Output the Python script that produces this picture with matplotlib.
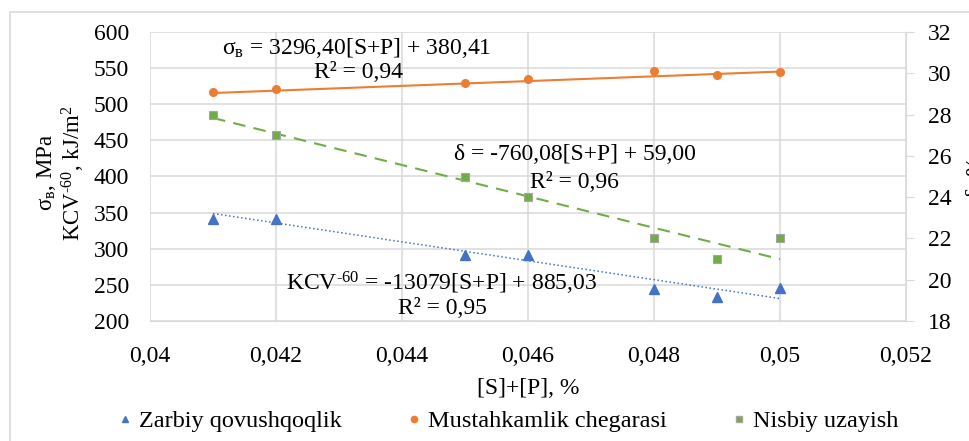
import numpy as np
import matplotlib.pyplot as plt
from matplotlib.patches import Rectangle
from matplotlib.lines import Line2D

plt.rcParams['font.family'] = ['Liberation Serif', 'DejaVu Serif']
plt.rcParams['mathtext.fontset'] = 'custom'
plt.rcParams['mathtext.rm'] = 'Liberation Serif'
plt.rcParams['mathtext.it'] = 'Liberation Serif:italic'

# [S]+[P] content, %
sp = [0.041, 0.042, 0.045, 0.046, 0.048, 0.049, 0.050]
# KCV-60, kJ/m2
kcv = [341, 341, 291, 291, 244, 233, 246]
# sigma_B, MPa
sigma = [517, 521, 529, 535, 546, 541, 544]
# delta, %
delta = [28, 27, 25, 24, 22, 21, 22]

# trendline coefficients (slope, intercept)
kcv_fit = (-13079, 885.03)
sigma_fit = (3296.40, 380.41)
delta_fit = (-760.08, 59.00)

c_blue = '#4472C4'
c_orange = '#ED7D31'
c_green = '#70AD47'
grid_c = '#D9D9D9'

fig = plt.figure(figsize=(9.7, 4.41), dpi=100)
fig.patches.append(Rectangle((10 / 970, -0.1), 1.2, (441 - 12) / 441 + 0.1,
                             transform=fig.transFigure, fill=False,
                             edgecolor=grid_c, lw=1.2))

ax = fig.add_axes([150 / 970, 120 / 441, 756 / 970, 289 / 441])
ax2 = ax.twinx()

xs = np.array([sp[0], sp[-1]])

# left axis: impact strength and tensile strength
ax.plot(xs, kcv_fit[0] * xs + kcv_fit[1], color=c_blue, ls=':', lw=1.1)
ax.plot(sp, kcv, ls='none', marker='^', ms=6.5, color=c_blue)
ax.plot(xs, sigma_fit[0] * xs + sigma_fit[1], color=c_orange, lw=1.5)
ax.plot(sp, sigma, ls='none', marker='o', ms=5.5, color=c_orange)

# right axis: elongation
ax2.plot(xs, delta_fit[0] * xs + delta_fit[1], color=c_green, ls=(0, (6, 4)), lw=1.5)
ax2.plot(sp, delta, ls='none', marker='s', ms=5.5, color=c_green,
         mec='#A5A5A5', mew=0.8)

ax.set_xlim(0.04, 0.052)
ax.set_ylim(200, 600)
ax2.set_ylim(18, 32)
xt = np.arange(0.040, 0.0521, 0.002)
ax.set_xticks(xt)
ax.set_xticklabels(['0,04', '0,042', '0,044', '0,046', '0,048', '0,05', '0,052'])
ax.set_yticks(np.arange(200, 601, 50))
ax2.set_yticks(np.arange(18, 33, 2))

ax.grid(True, color=grid_c, lw=1.1)
ax.set_axisbelow(True)
for a in (ax, ax2):
    for s in a.spines.values():
        s.set_visible(False)
ax2.spines['right'].set_visible(True)
ax2.spines['right'].set_color(grid_c)
ax.spines['bottom'].set_visible(True)
ax.spines['bottom'].set_color(grid_c)
ax.tick_params(axis='y', length=0, labelsize=17, pad=15)
ax.tick_params(axis='x', length=0, labelsize=17, pad=18)
ax2.tick_params(axis='y', length=6, color=grid_c, labelsize=17, pad=10)

ax.set_xlabel('[S]+[P], %', fontsize=17, labelpad=8)
fig.text(47 / 970, 1 - 173 / 441, 'σ$_{\\mathrm{в}}$, MPa', rotation=90,
         ha='center', va='center', fontsize=16.5)
fig.text(73 / 970, 1 - 173 / 441, 'KCV$^{\\mathrm{‐60}}$, kJ/m$^{\\mathrm{2}}$',
         rotation=90, ha='center', va='center', fontsize=16.5)
fig.text(966 / 970, 1 - 177 / 441, 'δ, %', rotation=90, ha='left', va='center',
         fontsize=16.5)

# trendline equations
eq = dict(ha='center', va='center', fontsize=17, transform=fig.transFigure)
fig.text(357 / 970, 1 - 48 / 441, 'σ$_{\\mathrm{в}}$ = 3296,40[S+P] + 380,41', **eq)
fig.text(358 / 970, 1 - 73 / 441, 'R² = 0,94', **eq)
fig.text(575 / 970, 1 - 155 / 441, 'δ = -760,08[S+P] + 59,00', **eq)
fig.text(574 / 970, 1 - 183 / 441, 'R² = 0,96', **eq)
fig.text(442 / 970, 1 - 283 / 441, 'KCV$^{\\mathrm{‐60}}$ = -13079[S+P] + 885,03', **eq)
fig.text(442 / 970, 1 - 308 / 441, 'R² = 0,95', **eq)

handles = [
    Line2D([], [], ls='none', marker='^', ms=5, color=c_blue),
    Line2D([], [], ls='none', marker='o', ms=4.5, color=c_orange),
    Line2D([], [], ls='none', marker='s', ms=4.5, color=c_green, mec='#A5A5A5'),
]
fig.legend(handles, ['Zarbiy qovushqoqlik', 'Mustahkamlik chegarasi', 'Nisbiy uzayish'],
           loc='center', bbox_to_anchor=(508 / 970, 1 - 421 / 441), ncol=3,
           frameon=False, fontsize=17.5, handlelength=0.6, handletextpad=0.25,
           columnspacing=2.7)

fig.savefig('out.png', dpi=100)
